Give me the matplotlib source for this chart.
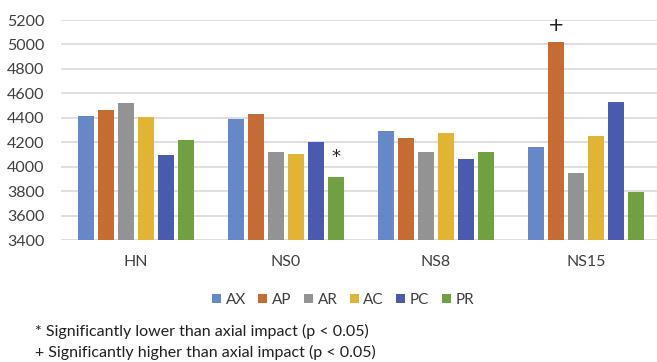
import matplotlib.pyplot as plt
import numpy as np

plt.rcParams['font.family'] = ['Lato', 'DejaVu Sans']

groups = ["HN", "NS0", "NS8", "NS15"]
series = ["AX", "AP", "AR", "AC", "PC", "PR"]
AX = [4418, 4393, 4289, 4161]
AP = [4464, 4434, 4234, 5019]
AR = [4519, 4120, 4120, 3947]
AC = [4407, 4106, 4276, 4248]
PC = [4092, 4204, 4062, 4532]
PR = [4218, 3917, 4120, 3791]
values = [AX, AP, AR, AC, PC, PR]
colors = ["#6788C8", "#C56C34", "#939393", "#E2B434", "#4A5AAE", "#70A03F"]
yticks = list(range(3400, 5201, 200))
notes = ["* Significantly lower than axial impact (p < 0.05)",
         "+ Significantly higher than axial impact (p < 0.05)"]

W, H = 657, 362
fig = plt.figure(figsize=(W / 100, H / 100), dpi=100)
ax = fig.add_axes([61 / W, (H - 240) / H, 600 / W, 220 / H])

x = np.arange(len(groups))
pitch = 0.1333
width = 0.106
for i, (name, vals, c) in enumerate(zip(series, values, colors)):
    ax.bar(x + (i - 2.5) * pitch, np.array(vals) - 3400, width, bottom=3400,
           color=c, label=name, zorder=3)

# significance markers
ax.text(1 + 2.5 * pitch, PR[1] + 90, "*", ha="center", va="bottom",
        fontsize=13, family="DejaVu Sans", color="#202020")
ax.text(3 - 1.5 * pitch, AP[3] + 55, "+", ha="center", va="bottom",
        fontsize=14, family="DejaVu Sans", color="#202020")

ax.set_xlim(-0.5, 3.5)
ax.set_ylim(3400, 5200)
ax.set_yticks(yticks)
ax.set_xticks(x)
ax.set_xticklabels(groups)
ax.yaxis.grid(True, color="#D9D9D9", linewidth=1.2, zorder=0)
ax.tick_params(length=0, labelsize=11.5, colors="#404040")
ax.tick_params(axis="x", pad=11)
ax.tick_params(axis="y", pad=12)
for s in ax.spines.values():
    s.set_visible(False)
ax.set_axisbelow(True)

fig.legend(loc="center", bbox_to_anchor=(343 / W, 1 - 300 / H), ncol=6,
           frameon=False, fontsize=11, handlelength=0.6, handleheight=0.6,
           handletextpad=0.3, columnspacing=0.8, labelcolor="#404040")

fig.text(35 / W, 1 - 331 / H, notes[0], fontsize=11.5, va="center", color="#202020")
fig.text(35 / W, 1 - 352 / H, notes[1], fontsize=11.5, va="center", color="#202020")

fig.savefig("out.png", dpi=100)
